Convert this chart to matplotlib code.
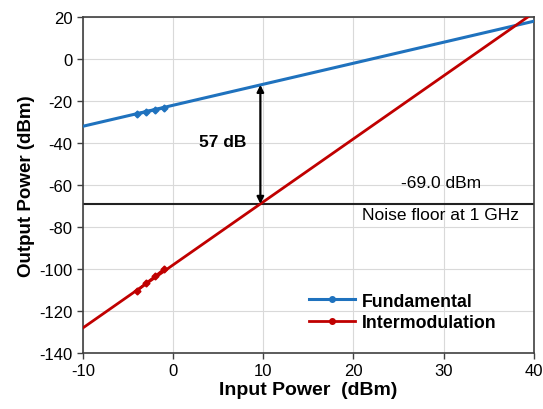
import matplotlib.pyplot as plt

plt.rcParams['font.family'] = ['Liberation Sans', 'DejaVu Sans']
plt.rcParams['axes.unicode_minus'] = False

# measured points
meas_x = [-4, -3, -2, -1]
fund_meas = [-26.2, -25.1, -24.2, -23.2]
im_meas = [-110.3, -106.8, -103.5, -100.0]

# extrapolated lines (slope 1 and slope 3)
line_x = [-10, 40]
fund_line = [-32, 18]
im_line = [-128, 22]

noise_floor = -69.0
arrow_x = 9.67
arrow_top = -12.3

blue = '#1F72BE'
red = '#C00000'

fig = plt.figure(figsize=(5.43, 4.10), dpi=100)
ax = fig.add_axes([0.153, 0.1366, 0.83, 0.8194])

ax.plot(line_x, fund_line, color=blue, lw=2.2, zorder=3)
ax.plot(line_x, im_line, color=red, lw=2.0, zorder=3)
ax.plot(meas_x, fund_meas, color=blue, lw=2.2, marker='D', ms=3.5, zorder=4,
        label='Fundamental')
ax.plot(meas_x, im_meas, color=red, lw=2.0, marker='D', ms=3.5, zorder=4,
        label='Intermodulation')

ax.axhline(noise_floor, color='#222222', lw=1.5, zorder=2)
ax.text(29.7, -59, '%.1f dBm' % noise_floor, ha='center', va='center', fontsize=12.5)
ax.text(29.7, -74, 'Noise floor at 1 GHz', ha='center', va='center', fontsize=12.5)

ax.annotate('', xy=(arrow_x, noise_floor), xytext=(arrow_x, arrow_top),
            arrowprops=dict(arrowstyle='<|-|>', color='black', lw=1.6,
                            mutation_scale=10, shrinkA=0, shrinkB=0), zorder=5)
ax.text(5.5, -39.5, '57 dB', ha='center', va='center', fontsize=12.5, fontweight='bold')

ax.set_xlim(-10, 40)
ax.set_ylim(-140, 20)
ax.set_xticks(range(-10, 41, 10))
ax.set_yticks(range(-140, 21, 20))
ax.grid(True, color='#d9d9d9', lw=0.8)
ax.set_axisbelow(True)
for s in ax.spines.values():
    s.set_color('#404040')
    s.set_linewidth(1.2)
ax.tick_params(axis='both', labelsize=12, length=4, color='#404040', width=1)

ax.set_xlabel('Input Power  (dBm)', fontsize=14, fontweight='bold', labelpad=2)
ax.set_ylabel('Output Power (dBm)', fontsize=13.5, fontweight='bold', labelpad=3)

leg = ax.legend(loc='lower left', bbox_to_anchor=(0.485, 0.044), frameon=False,
                prop={'weight': 'bold', 'size': 12.8}, handlelength=2.6,
                labelspacing=0.25, borderaxespad=0, handletextpad=0.4)
for h in leg.legend_handles:
    h.set_marker('o')
    h.set_markersize(4)

fig.savefig('out.png', dpi=100)
